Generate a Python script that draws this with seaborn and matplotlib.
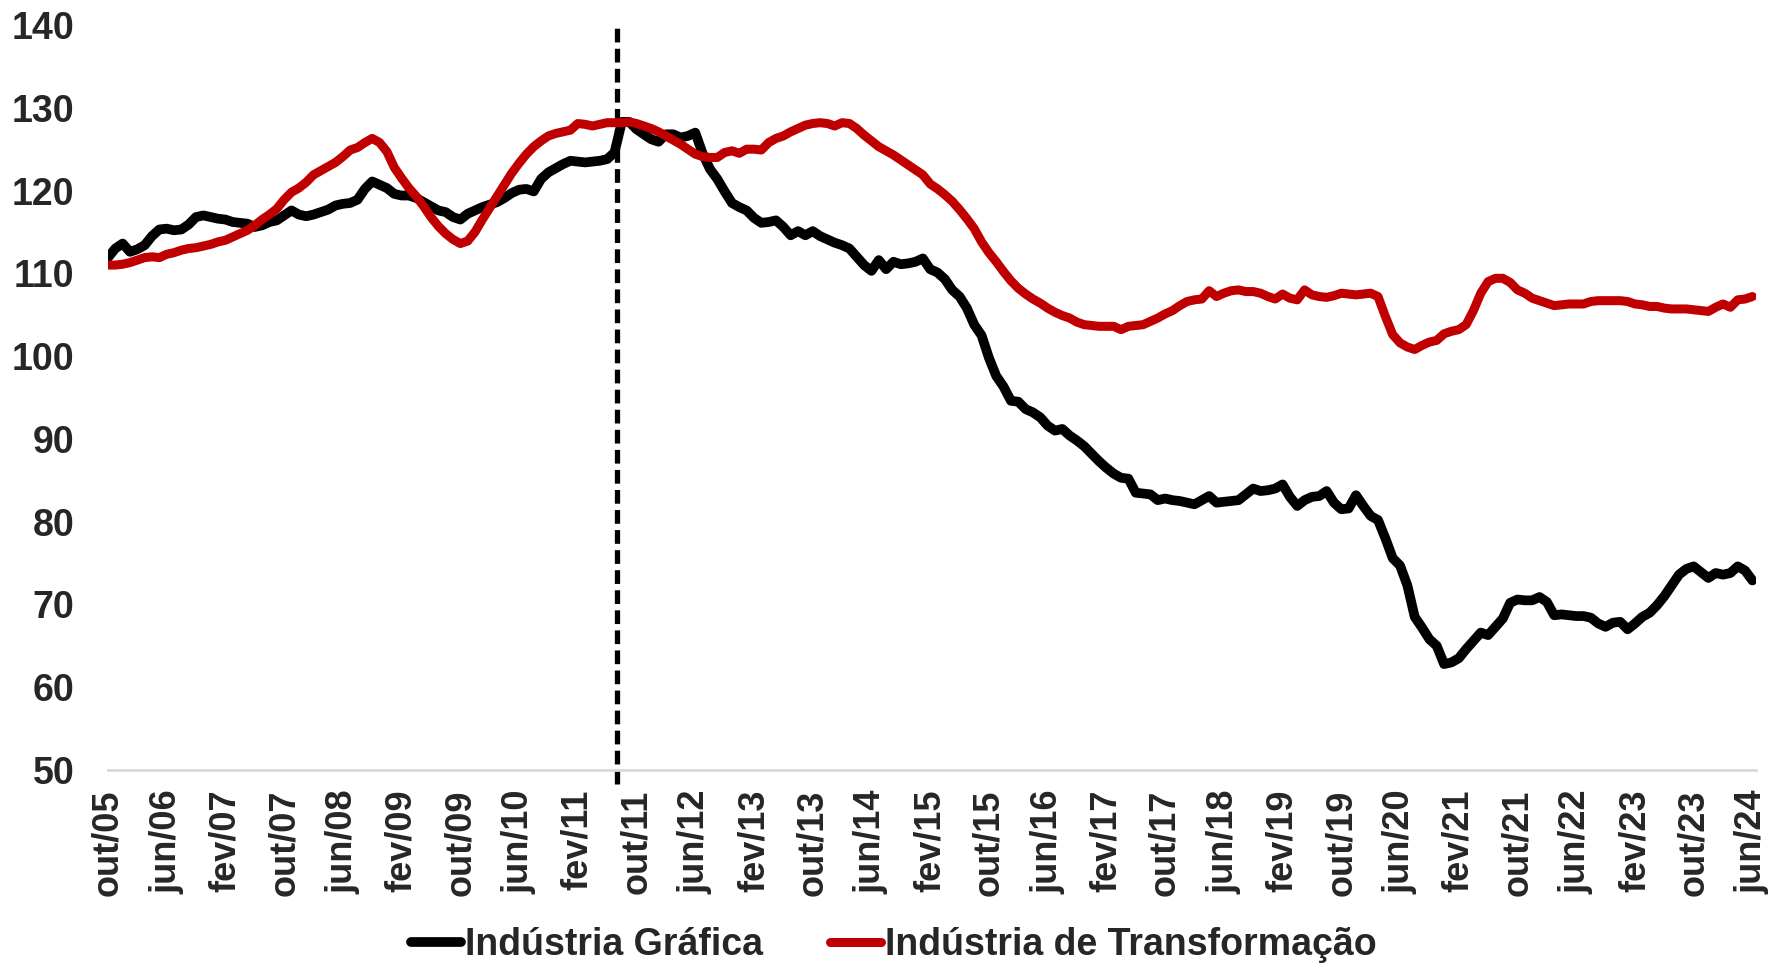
import numpy as np
import pandas as pd
import matplotlib
matplotlib.use("Agg")
import matplotlib.pyplot as plt
import seaborn as sns

# Índices mensais, de out/05 a jun/24 (225 meses)
grafica = [
    111.9, 113.0, 113.6, 112.6, 112.9, 113.4, 114.5, 115.3, 115.4, 115.2,
    115.3, 115.9, 116.8, 117.0, 116.8, 116.6, 116.5, 116.2, 116.1, 116.0,
    115.6, 115.8, 116.2, 116.4, 117.0, 117.6, 117.1, 116.9, 117.1, 117.4,
    117.7, 118.2, 118.4, 118.5, 118.9, 120.2, 121.1, 120.7, 120.3, 119.6,
    119.4, 119.4, 119.1, 118.6, 118.1, 117.6, 117.4, 116.8, 116.5, 117.2,
    117.6, 118.0, 118.3, 118.6, 119.1, 119.7, 120.1, 120.2, 119.9, 121.4,
    122.2, 122.7, 123.2, 123.6, 123.5, 123.4, 123.5, 123.6, 123.8, 124.6,
    128.3, 128.3, 127.4, 126.8, 126.2, 125.9, 126.8, 126.8, 126.4, 126.6,
    127.0, 124.5, 122.6, 121.4, 119.9, 118.5, 118.0, 117.6, 116.7, 116.1,
    116.2, 116.4, 115.6, 114.6, 115.1, 114.6, 115.1, 114.5, 114.1, 113.7,
    113.4, 113.0, 112.0, 111.0, 110.3, 111.6, 110.5, 111.4, 111.1, 111.2,
    111.4, 111.8, 110.5, 110.1, 109.3, 108.0, 107.2, 105.8, 103.8, 102.5,
    99.8, 97.6, 96.3, 94.6, 94.5, 93.6, 93.2, 92.6, 91.6, 91.0,
    91.2, 90.4, 89.8, 89.1, 88.2, 87.3, 86.5, 85.8, 85.3, 85.2,
    83.5, 83.4, 83.3, 82.6, 82.8, 82.6, 82.5, 82.3, 82.1, 82.6,
    83.1, 82.3, 82.4, 82.5, 82.6, 83.3, 84.0, 83.7, 83.8, 84.0,
    84.5, 83.0, 81.9, 82.6, 83.0, 83.1, 83.7, 82.3, 81.5, 81.6,
    83.2, 81.9, 80.7, 80.2, 78.0, 75.6, 74.7, 72.3, 68.5, 67.2,
    65.8, 65.0, 62.8, 63.0, 63.5, 64.6, 65.6, 66.6, 66.3, 67.3,
    68.3, 70.2, 70.6, 70.5, 70.5, 70.9, 70.3, 68.7, 68.8, 68.7,
    68.6, 68.6, 68.4, 67.7, 67.3, 67.8, 67.9, 67.0, 67.7, 68.5,
    69.0, 69.9, 71.0, 72.3, 73.6, 74.3, 74.6, 73.9, 73.2, 73.8,
    73.6, 73.8, 74.6, 74.1, 72.9,
]

transformacao = [
    111.0, 111.0, 111.1, 111.3, 111.6, 111.9, 112.0, 111.9, 112.3, 112.5,
    112.8, 113.0, 113.1, 113.3, 113.5, 113.8, 114.0, 114.4, 114.8, 115.2,
    115.8, 116.5, 117.1, 117.8, 118.9, 119.8, 120.3, 121.0, 121.9, 122.4,
    122.9, 123.4, 124.1, 124.9, 125.2, 125.8, 126.3, 125.8, 124.7, 122.8,
    121.5, 120.3, 119.3, 118.1, 116.8, 115.7, 114.8, 114.1, 113.6, 113.9,
    115.0, 116.5, 117.9, 119.3, 120.7, 122.1, 123.3, 124.4, 125.3, 126.0,
    126.6, 126.9, 127.1, 127.3, 128.1, 128.0, 127.8, 128.0, 128.2, 128.2,
    128.2, 128.3, 128.1, 127.8, 127.5, 127.1, 126.6, 126.1, 125.6, 125.0,
    124.4, 124.1, 124.0, 124.0, 124.6, 124.8, 124.5, 125.0, 125.0, 124.9,
    125.8, 126.3, 126.6, 127.1, 127.5, 127.9, 128.1, 128.2, 128.1, 127.8,
    128.2, 128.1, 127.5, 126.7, 126.0, 125.3, 124.8, 124.3, 123.7, 123.1,
    122.5, 121.9, 120.8, 120.2, 119.5, 118.7, 117.7, 116.6, 115.4, 113.8,
    112.5, 111.4, 110.2, 109.1, 108.2, 107.5, 106.9, 106.4, 105.8, 105.3,
    104.9, 104.6, 104.1, 103.8, 103.7, 103.6, 103.6, 103.6, 103.2, 103.6,
    103.7, 103.8, 104.2, 104.6, 105.1, 105.5, 106.1, 106.6, 106.8, 106.9,
    107.9, 107.2, 107.6, 107.9, 108.0, 107.8, 107.8, 107.6, 107.2, 106.9,
    107.5, 107.0, 106.8, 108.0, 107.4, 107.2, 107.1, 107.3, 107.6, 107.5,
    107.4, 107.5, 107.6, 107.2, 104.8, 102.6, 101.6, 101.1, 100.8, 101.3,
    101.7, 101.9, 102.7, 103.0, 103.2, 103.8, 105.5, 107.6, 109.0, 109.4,
    109.4, 108.9, 108.0, 107.6, 107.0, 106.7, 106.4, 106.1, 106.2, 106.3,
    106.3, 106.3, 106.6, 106.7, 106.7, 106.7, 106.7, 106.6, 106.3, 106.2,
    106.0, 106.0, 105.8, 105.7, 105.7, 105.7, 105.6, 105.5, 105.4, 105.9,
    106.3, 105.9, 106.8, 106.9, 107.2,
]

rotulos_x = [
    "out/05", "jun/06", "fev/07", "out/07", "jun/08", "fev/09", "out/09",
    "jun/10", "fev/11", "out/11", "jun/12", "fev/13", "out/13", "jun/14",
    "fev/15", "out/15", "jun/16", "fev/17", "out/17", "jun/18", "fev/19",
    "out/19", "jun/20", "fev/21", "out/21", "jun/22", "fev/23", "out/23",
    "jun/24",
]
passo_rotulos = 8          # um rótulo a cada 8 meses
marco = 69.4               # linha tracejada (entre jul/11 e ago/11)

df = pd.DataFrame({
    "mes": np.arange(len(grafica)),
    "Indústria Gráfica": grafica,
    "Indústria de Transformação": transformacao,
})

sns.set_style("white")
plt.rcParams["font.family"] = ["Liberation Sans", "DejaVu Sans"]
plt.rcParams["font.weight"] = "bold"

fig = plt.figure(figsize=(17.87, 9.73), dpi=100)
ax = fig.add_axes([0.0604, 0.2086, 0.9223, 0.7657])

sns.lineplot(data=df, x="mes", y="Indústria Gráfica", color="black",
             linewidth=7, label="Indústria Gráfica", ax=ax,
             solid_capstyle="round", solid_joinstyle="round")
sns.lineplot(data=df, x="mes", y="Indústria de Transformação", color="#C00000",
             linewidth=6.5, label="Indústria de Transformação", ax=ax,
             solid_capstyle="round", solid_joinstyle="round")

ax.axvline(marco, ymin=-0.019, ymax=1, color="black", linewidth=3.8,
           linestyle=(0, (2.6, 1.2)), clip_on=False, zorder=1)

ax.set_xlim(0, len(grafica) - 0.5)
ax.set_ylim(50, 140)
ax.set_yticks(range(50, 141, 10))
ax.set_xticks(range(0, len(grafica), passo_rotulos))
ax.set_xticklabels(rotulos_x, rotation=90)
ax.tick_params(axis="y", length=0, pad=24, labelsize=27)
ax.tick_params(axis="x", length=0, pad=14, labelsize=26)
ax.set_xlabel("")
ax.set_ylabel("")

for lado in ["top", "right", "left"]:
    ax.spines[lado].set_visible(False)
ax.spines["bottom"].set_color("#d9d9d9")
ax.spines["bottom"].set_linewidth(2)

ax.legend(loc="center", bbox_to_anchor=(0.5, 0.029), bbox_transform=fig.transFigure,
          ncol=2, frameon=False, fontsize=27, handlelength=1.35,
          handletextpad=0.1, columnspacing=1.8)

fig.savefig("out.png", dpi=100)
